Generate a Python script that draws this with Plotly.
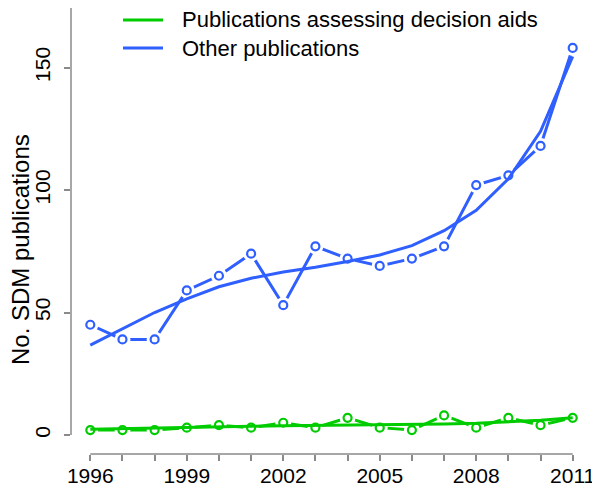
import plotly.graph_objects as go

years = list(range(1996, 2012))
other_pubs = [45, 39, 39, 59, 65, 74, 53, 77, 72, 69, 72, 77, 102, 106, 118, 158]
other_smooth = [36.7, 43.5, 50, 55.6, 60.5, 64, 66.5, 68.5, 70.8, 73.5, 77.3, 83.4, 91.7, 104.6, 124, 154.5]
aid_pubs = [2, 2, 2, 3, 4, 3, 5, 3, 7, 3, 2, 8, 3, 7, 4, 7]
aid_smooth = [2.3, 2.6, 2.9, 3.2, 3.4, 3.6, 3.8, 3.9, 4.0, 4.1, 4.3, 4.5, 4.8, 5.3, 6.0, 7.0]
x_tickvals = years
x_ticktext = [str(y) if (y - 1996) % 3 == 0 else "" for y in years]
y_tickvals = [0, 50, 100, 150, 200]
series_names = ["Publications assessing decision aids", "Other publications"]
y_title = "No. SDM publications"

GREEN = "#00CC00"
BLUE = "#2F5FFF"
AXC = "#8a8a8a"
FONT = "Liberation Sans, Arial, sans-serif"

W, H = 600, 491
ML, MR, MT, MB = 63, 16, 0, 45
PW, PH = W - ML - MR, H - MT - MB
OFF = 8  # page body margin offset


def px_x(sx):
    return (sx - OFF - ML) / PW


def px_y(sy):
    return (PH - (sy - OFF - MT)) / PH


fig = go.Figure()

# raw data lines (type="b" style: gaps around points)
for ys, c in [(other_pubs, BLUE), (aid_pubs, GREEN)]:
    fig.add_trace(go.Scatter(x=years, y=ys, mode="lines", line=dict(color=c, width=3),
                             showlegend=False, hoverinfo="skip", cliponaxis=False))
# white gap markers
for ys in [other_pubs, aid_pubs]:
    fig.add_trace(go.Scatter(x=years, y=ys, mode="markers",
                             marker=dict(color="white", size=16, line=dict(width=0)),
                             showlegend=False, hoverinfo="skip", cliponaxis=False))
# smooth lines
fig.add_trace(go.Scatter(x=years, y=aid_smooth, mode="lines", line=dict(color=GREEN, width=3),
                         name=series_names[0], showlegend=False, cliponaxis=False))
fig.add_trace(go.Scatter(x=years, y=other_smooth, mode="lines", line=dict(color=BLUE, width=3),
                         name=series_names[1], showlegend=False, cliponaxis=False))
# open circle points
for ys, c in [(other_pubs, BLUE), (aid_pubs, GREEN)]:
    fig.add_trace(go.Scatter(x=years, y=ys, mode="markers",
                             marker=dict(symbol="circle-open", color=c, size=8, line=dict(width=2.2, color=c)),
                             showlegend=False, cliponaxis=False))

# axis lines in R style (spanning first to last tick)
fig.add_shape(type="line", xref="x", yref="paper", x0=years[0], x1=years[-1], y0=0, y1=0,
              line=dict(color=AXC, width=1.5))
fig.add_shape(type="line", xref="paper", yref="y", x0=0, x1=0, y0=y_tickvals[0], y1=y_tickvals[-1],
              line=dict(color=AXC, width=1.5))

# legend (R style)
for i, (name, c) in enumerate(zip(series_names, [GREEN, BLUE])):
    sy = 20 + 28 * i
    fig.add_shape(type="line", xref="paper", yref="paper", x0=px_x(123), x1=px_x(163),
                  y0=px_y(sy), y1=px_y(sy), line=dict(color=c, width=3))
    fig.add_annotation(text=name, xref="paper", yref="paper", x=px_x(180), y=px_y(sy),
                       xanchor="left", yanchor="middle", showarrow=False,
                       font=dict(size=22, color="black", family=FONT))

fig.add_annotation(text=y_title, xref="paper", yref="paper", x=px_x(20), y=px_y(250),
                   xanchor="center", yanchor="middle", textangle=-90, showarrow=False,
                   font=dict(size=24, color="black", family=FONT))

fig.update_layout(
    width=W, height=H,
    margin=dict(l=ML, r=MR, t=MT, b=MB, autoexpand=False),
    plot_bgcolor="white", paper_bgcolor="white",
    font=dict(family=FONT, size=21, color="black"),
    showlegend=False,
    xaxis=dict(range=[1995.4, 2011.6], tickvals=x_tickvals, ticktext=x_ticktext,
               ticks="outside", ticklen=6, tickcolor=AXC, tickwidth=1.5,
               ticklabelstandoff=-3,
               showgrid=False, zeroline=False, showline=False, automargin=False,
               tickfont=dict(size=21, color="black")),
    yaxis=dict(range=[-7.76, 174.3], tickvals=y_tickvals, ticks="outside", ticklen=6,
               tickcolor=AXC, tickwidth=1.5, tickangle=-90, automargin=False,
               ticklabelstandoff=6,
               showgrid=False, zeroline=False, showline=False,
               tickfont=dict(size=21, color="black")),
)

fig.write_html("out.html")
